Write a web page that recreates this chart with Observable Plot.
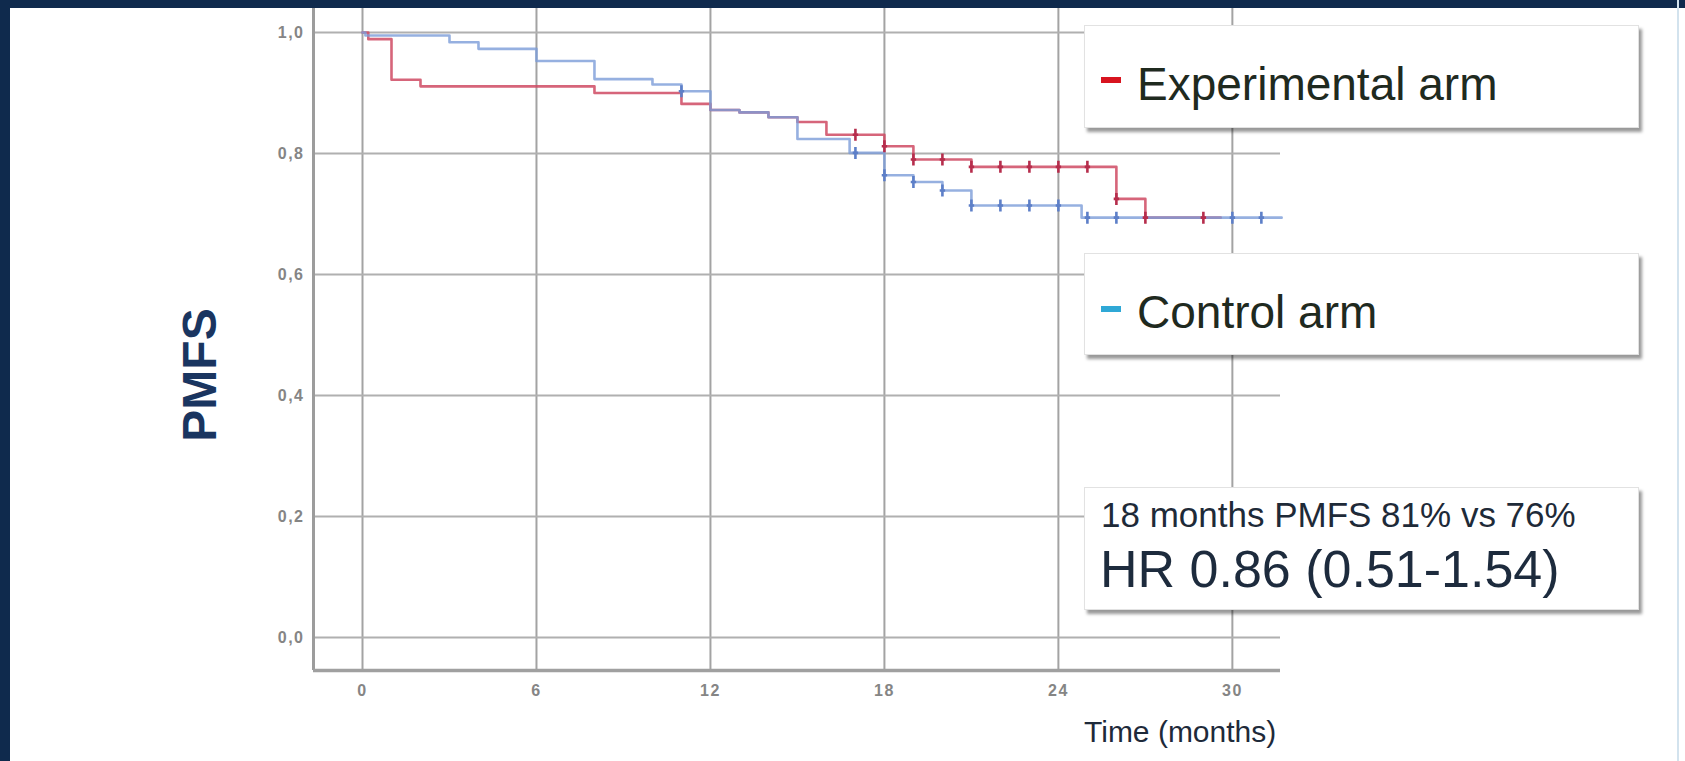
<!DOCTYPE html>
<html>
<head>
<meta charset="utf-8">
<script src="https://cdn.jsdelivr.net/npm/d3@7"></script>
<script src="https://cdn.jsdelivr.net/npm/@observablehq/plot@0.6"></script>
<style>
  html, body { margin: 0; padding: 0; background: #fff; }
  #wrap { position: relative; width: 1685px; height: 761px; overflow: hidden; background: #fff;
          font-family: "Liberation Sans", Arial, sans-serif; }
  #wrap svg { position: absolute; left: 0; top: 0; z-index: 1; }
  .band { position: absolute; background: #0f2a4d; z-index: 3; }
  .box { position: absolute; background: #fff; border: 1px solid #e2e2e2; box-sizing: border-box;
         box-shadow: 3px 4px 3px rgba(0,0,0,0.40); z-index: 2; }
  .t { position: absolute; white-space: nowrap; line-height: 1; z-index: 4; }
  .dash { position: absolute; z-index: 4; }
  g[aria-label="y-axis tick label"], g[aria-label="x-axis tick label"] {
    fill: #858585; letter-spacing: 1.5px; font-size: 16px !important; font-weight: bold !important; }
</style>
</head>
<body>
<div id="wrap"></div>
<script>
// ---- data ----
const expTime = [0, 0.2, 1, 2, 8, 11, 12, 13, 14, 15, 16, 18, 19, 21, 26, 27, 29.6];
const expSurv = [1, 0.989, 0.922, 0.911, 0.900, 0.882, 0.872, 0.868, 0.860, 0.852, 0.831, 0.812, 0.790, 0.778, 0.725, 0.694, 0.694];
const expCensTime = [17, 18, 19, 20, 21, 22, 23, 24, 25, 26, 27, 29];
const expCensSurv = [0.831, 0.812, 0.790, 0.790, 0.778, 0.778, 0.778, 0.778, 0.778, 0.725, 0.694, 0.694];

const ctrlTime = [0, 0.1, 3, 4, 6, 8, 10, 11, 12, 13, 14, 15, 16.8, 18, 19, 20, 21, 24.8, 31.7];
const ctrlSurv = [1, 0.995, 0.984, 0.973, 0.953, 0.923, 0.914, 0.903, 0.872, 0.868, 0.860, 0.824, 0.801, 0.764, 0.753, 0.739, 0.714, 0.694, 0.694];
const ctrlCensTime = [11, 17, 18, 19, 20, 21, 22, 23, 24, 25, 26, 30, 31];
const ctrlCensSurv = [0.903, 0.801, 0.764, 0.753, 0.739, 0.714, 0.714, 0.714, 0.714, 0.694, 0.694, 0.694, 0.694];

const xTicks = [0, 6, 12, 18, 24, 30];
const yTicks = [0, 0.2, 0.4, 0.6, 0.8, 1.0];
const xDomain = [-1.69, 31.66];
const yDomain = [-0.0545, 1.0397];

const seriesNames = ["Experimental arm", "Control arm"];
const statLine1 = "18 months PMFS 81% vs 76%";
const statLine2 = "HR 0.86 (0.51-1.54)";
const yLabel = "PMFS";
const xLabel = "Time (months)";

// ---- build tables ----
const expData = expTime.map((t, i) => ({t, s: expSurv[i]}));
const ctrlData = ctrlTime.map((t, i) => ({t, s: ctrlSurv[i]}));
const expCens = expCensTime.map((t, i) => ({t, s: expCensSurv[i]}));
const ctrlCens = ctrlCensTime.map((t, i) => ({t, s: ctrlCensSurv[i]}));

const censorSymbol = {
  draw(ctx, size) {
    const h = Math.sqrt(size / Math.PI);
    ctx.moveTo(0, -h); ctx.lineTo(0, h);
    ctx.moveTo(-h * 0.45, 0); ctx.lineTo(h * 0.45, 0);
  }
};

const redLine = "#cf4a63", blueLine = "#7c9cd8";
const redMark = "#b62d4c", blueMark = "#5d7fc8";

const chart = Plot.plot({
  width: 1685, height: 761,
  marginLeft: 313, marginRight: 405, marginTop: 8, marginBottom: 91,
  x: {domain: xDomain},
  y: {domain: yDomain},
  style: {background: "transparent", fontFamily: "Liberation Sans, Arial, sans-serif"},
  marks: [
    Plot.gridX(xTicks, {stroke: "#a3a3a3", strokeOpacity: 1, strokeWidth: 2}),
    Plot.gridY(yTicks, {stroke: "#b0b0b0", strokeOpacity: 1, strokeWidth: 2}),
    Plot.ruleX([xDomain[0]], {stroke: "#9c9c9c", strokeWidth: 3}),
    Plot.ruleY([yDomain[0]], {stroke: "#a0a0a0", strokeWidth: 3.5}),
    Plot.axisX(xTicks, {tickSize: 0, tickPadding: 14, fontSize: 16, fontWeight: "bold", label: null}),
    Plot.axisY(yTicks, {tickSize: 0, tickPadding: 9, fontSize: 16, fontWeight: "bold", label: null,
                        tickFormat: d => d.toFixed(1).replace(".", ",")}),
    Plot.line(expData, {x: "t", y: "s", curve: "step-after", stroke: redLine, strokeWidth: 2.6, strokeOpacity: 0.85}),
    Plot.line(ctrlData, {x: "t", y: "s", curve: "step-after", stroke: blueLine, strokeWidth: 2.6, strokeOpacity: 0.8}),
    Plot.dot(expCens, {x: "t", y: "s", symbol: censorSymbol, r: 6, fill: "none", stroke: redMark, strokeWidth: 2.6}),
    Plot.dot(ctrlCens, {x: "t", y: "s", symbol: censorSymbol, r: 6, fill: "none", stroke: blueMark, strokeWidth: 2.6})
  ]
});

const wrap = document.getElementById("wrap");
wrap.appendChild(chart);

function add(cls, css, text) {
  const d = document.createElement("div");
  d.className = cls;
  Object.assign(d.style, css);
  if (text != null) d.textContent = text;
  wrap.appendChild(d);
  return d;
}

// frame bands
add("band", {left: "0px", top: "0px", width: "1685px", height: "8px"});
add("band", {left: "0px", top: "0px", width: "10px", height: "761px"});
add("band", {left: "1677px", top: "0px", width: "2px", height: "761px", background: "#d3e3ee"});

// boxes
add("box", {left: "1084px", top: "25px", width: "555px", height: "103px"});
add("box", {left: "1084px", top: "253px", width: "555px", height: "102px"});
add("box", {left: "1084px", top: "487px", width: "555px", height: "123px"});

// legend entries
add("dash", {left: "1101px", top: "77px", width: "20px", height: "6px", background: "#d8141f"});
add("t", {left: "1137px", top: "61px", fontSize: "46px", color: "#1f2a1f"}, seriesNames[0]);
add("dash", {left: "1101px", top: "306px", width: "20px", height: "6px", background: "#2fa8d6"});
add("t", {left: "1137px", top: "289px", fontSize: "46px", color: "#1f2a1f"}, seriesNames[1]);

// stats
add("t", {left: "1101px", top: "497px", fontSize: "35px", color: "#1e2a38"}, statLine1);
add("t", {left: "1100px", top: "543px", fontSize: "52px", color: "#1d2b3d"}, statLine2);

// axis titles
add("t", {left: "1084px", top: "717px", fontSize: "30px", color: "#1e2a3a"}, xLabel);
add("t", {left: "200px", top: "375px", fontSize: "48px", fontWeight: "bold", color: "#1a3560",
          transform: "translate(-50%, -50%) rotate(-90deg)"}, yLabel);
</script>
</body>
</html>
